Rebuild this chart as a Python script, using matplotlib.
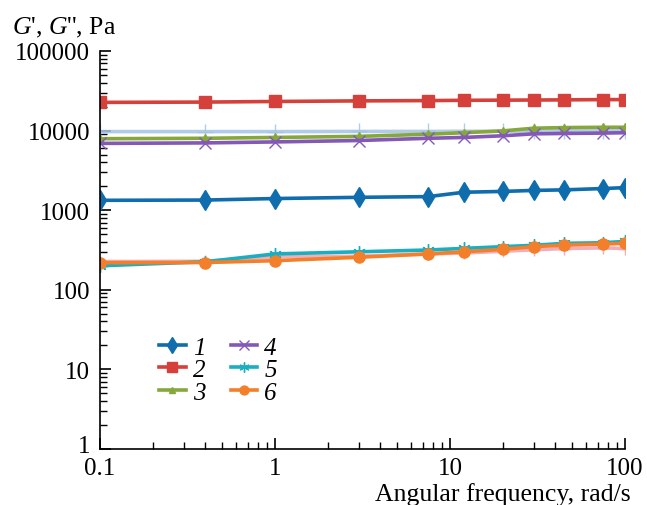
import numpy as np
import matplotlib
matplotlib.use('Agg')
import matplotlib.pyplot as plt
import matplotlib.transforms as mtransforms
from matplotlib.ticker import FixedLocator, LogLocator, NullFormatter

plt.rcParams['font.family'] = ['Liberation Serif', 'DejaVu Serif']
plt.rcParams['mathtext.fontset'] = 'custom'
plt.rcParams['mathtext.rm'] = 'Liberation Serif'
plt.rcParams['mathtext.it'] = 'Liberation Serif:italic'

# ============================================================
# DATA
# ============================================================
freq = [0.1, 0.4, 1, 3, 7.5, 12, 20, 30, 45, 75, 100]

s1 = [1330, 1340, 1400, 1450, 1480, 1680, 1720, 1770, 1800, 1870, 1920]
s2 = [22600, 22800, 23200, 23600, 23800, 24000, 24100, 24200, 24300, 24500, 24500]
s3 = [7900, 8000, 8200, 8450, 9000, 9400, 9900, 10700, 10900, 11000, 11000]
s4 = [6900, 7000, 7200, 7500, 8000, 8200, 8600, 9100, 9200, 9300, 9400]
s5 = [200, 225, 282, 300, 316, 331, 348, 362, 383, 390, 405]
s6 = [219, 220, 232, 256, 282, 300, 322, 348, 364, 376, 383]
s_lightblue = [9700, 9700, 9700, 9750, 9750, 9800, 9800, 9850, 9900, 9900, 9950]
s_pink = [226, 228, 260, 264, 282, 290, 305, 318, 330, 336, 330]

legend_labels = ['1', '2', '3', '4', '5', '6']
yticks = [1, 10, 100, 1000, 10000, 100000]
ytick_labels = ['1', '10', '100', '1000', '10000', '100000']
xticks = [0.1, 1, 10, 100]
xtick_labels = ['0.1', '1', '10', '100']

# ============================================================
# FIGURE
# ============================================================
fig = plt.figure(figsize=(6.47, 5.06), dpi=100)
ax = fig.add_axes([0.1546, 0.1107, 0.8114, 0.7866])

lw = 2.6
ax.plot(freq, s_lightblue, color='#A3C4E6', lw=lw, marker='+', ms=11, mew=1.0, alpha=0.85)
ax.plot(freq, s_pink, color='#F3A3AE', lw=lw, marker='+', ms=8, mew=1.0, alpha=0.9)

l1, = ax.plot(freq, s1, color='#0F6DAD', lw=lw, marker='d', ms=10)
l2, = ax.plot(freq, s2, color='#D6403A', lw=lw, marker='s', ms=8.5)
l3, = ax.plot(freq, s3, color='#86A83A', lw=lw, marker='^', ms=6)
l4, = ax.plot(freq, s4, color='#8458B6', lw=lw, marker='x', ms=9, mew=1.0)
l5, = ax.plot(freq, s5, color='#1AAFC0', lw=lw, marker=(6, 2, 0), ms=9, mew=1.0)
l6, = ax.plot(freq, s6, color='#F47F2A', lw=lw, marker='o', ms=8)

ax.set_xscale('log')
ax.set_yscale('log')
ax.set_xlim(0.1, 100)
ax.set_ylim(1, 100000)

ax.xaxis.set_major_locator(FixedLocator(xticks))
ax.set_xticklabels(xtick_labels)
ax.yaxis.set_major_locator(FixedLocator(yticks))
ax.set_yticklabels(ytick_labels)
ax.xaxis.set_minor_locator(LogLocator(base=10, subs=np.arange(2, 10), numticks=20))
ax.yaxis.set_minor_locator(LogLocator(base=10, subs=np.arange(2, 10), numticks=20))
ax.xaxis.set_minor_formatter(NullFormatter())
ax.yaxis.set_minor_formatter(NullFormatter())

ax.tick_params(which='major', direction='in', length=8, width=1.2, labelsize=18)
ax.tick_params(axis='y', which='major', pad=7)
ax.tick_params(axis='x', which='major', pad=6)
ax.tick_params(which='minor', direction='in', length=5, width=1.0)
ax.spines['top'].set_visible(False)
ax.spines['right'].set_visible(False)
ax.spines['left'].set_linewidth(1.2)
ax.spines['bottom'].set_linewidth(1.2)

# lift the "1" label a little so it clears "0.1"
lab1 = ax.get_yticklabels()[0]
lab1.set_transform(lab1.get_transform() +
                   mtransforms.ScaledTranslation(0, 4 / 72, fig.dpi_scale_trans))

leg = ax.legend([l1, l2, l3, l4, l5, l6], legend_labels, ncol=2,
                loc='upper left', bbox_to_anchor=(0.07, 0.34),
                frameon=False, prop={'family': 'Liberation Serif', 'style': 'italic', 'size': 18},
                handlelength=1.05, handletextpad=0.3, columnspacing=1.0,
                labelspacing=0.0, markerscale=0.8)

fig.text(0.018, 0.945, "$G$', $G$'', Pa", fontsize=18.5, ha='left', va='center')
fig.text(0.975, 0.022, 'Angular frequency, rad/s', fontsize=18.5, ha='right', va='center')

plt.savefig('out.png', dpi=100)
